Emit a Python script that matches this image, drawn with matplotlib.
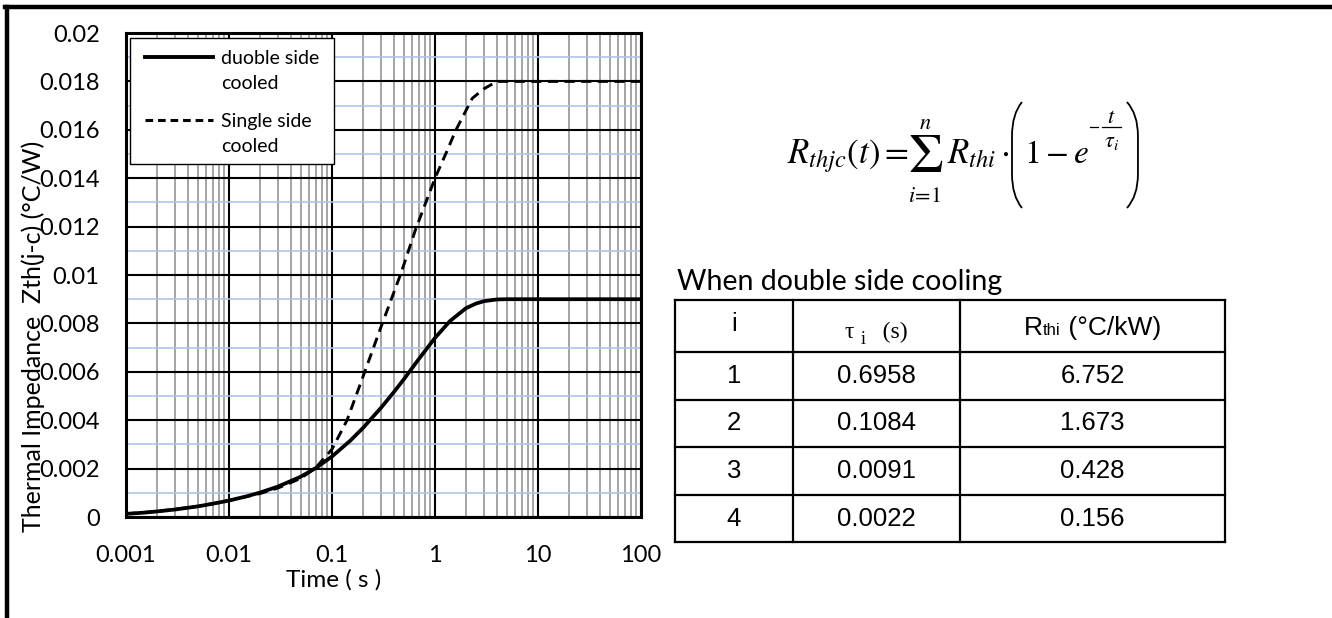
import matplotlib
matplotlib.use("Agg")
import matplotlib.pyplot as plt
from matplotlib.lines import Line2D
from matplotlib.patches import Rectangle, PathPatch
from matplotlib.path import Path
from matplotlib.ticker import FixedLocator, NullFormatter

plt.rcParams["font.family"] = ["Lato", "DejaVu Sans"]
plt.rcParams["mathtext.fontset"] = "stix"

# curve readings (time in s, Zth in degC/W)
time_double = [0.001, 0.0015, 0.002, 0.003, 0.005, 0.007, 0.01, 0.015, 0.02, 0.03,
               0.05, 0.07, 0.1, 0.15, 0.2, 0.3, 0.4, 0.5, 0.7, 1.0, 1.4, 2.0, 2.5,
               3.0, 4.0, 5.0, 10.0, 20.0, 50.0, 100.0]
zth_double = [0.00013, 0.00018, 0.00023, 0.00031, 0.00044, 0.00055, 0.00068, 0.00086,
              0.00101, 0.00126, 0.00167, 0.00203, 0.0025, 0.00315, 0.00368, 0.00452,
              0.00517, 0.0057, 0.00654, 0.0074, 0.0081, 0.00863, 0.00882, 0.00892,
              0.00899, 0.0090, 0.0090, 0.0090, 0.0090, 0.0090]

time_single = [0.001, 0.002, 0.005, 0.01, 0.02, 0.03, 0.05, 0.07, 0.1, 0.14, 0.2, 0.3,
               0.47, 0.65, 1.0, 1.3, 1.6, 2.0, 2.3, 3.0, 4.0, 6.0, 10.0, 100.0]
zth_single = [0.00013, 0.00023, 0.00044, 0.00068, 0.00097, 0.0012, 0.0016, 0.00205,
              0.0028, 0.0040, 0.0058, 0.00787, 0.0101, 0.0119, 0.0140, 0.0151, 0.0160,
              0.0168, 0.0173, 0.0177, 0.0180, 0.0180, 0.0180, 0.0180]

series_labels = [["duoble side", "cooled"], ["Single side", "cooled"]]

# table data
table_i = ["1", "2", "3", "4"]
table_tau = ["0.6958", "0.1084", "0.0091", "0.0022"]
table_rth = ["6.752", "1.673", "0.428", "0.156"]

W, H = 1332, 618
fig = plt.figure(figsize=(W / 100, H / 100), dpi=100)
fig.patch.set_facecolor("white")
renderer = fig.canvas.get_renderer()


def fx(x):
    return x / W


def fy(y):
    return 1 - y / H


# outer frame lines (top and left)
fig.add_artist(Line2D([fx(5), fx(1332)], [fy(7), fy(7)], color="black", lw=3.2))
fig.add_artist(Line2D([fx(7), fx(7)], [fy(7), fy(618)], color="black", lw=3.2))

ax = fig.add_axes([fx(126), fy(517), fx(641) - fx(126), fy(33) - fy(517)])
ax.set_xscale("log")
ax.set_xlim(0.001, 100)
ax.set_ylim(0, 0.02)

ax.xaxis.set_major_locator(FixedLocator([0.001, 0.01, 0.1, 1, 10, 100]))
ax.set_xticklabels(["0.001", "0.01", "0.1", "1", "10", "100"])
minor_x = [m * 10.0 ** e for e in range(-3, 2) for m in range(2, 10)]
ax.xaxis.set_minor_locator(FixedLocator(minor_x))
ax.xaxis.set_minor_formatter(NullFormatter())

yt = [0, 0.002, 0.004, 0.006, 0.008, 0.01, 0.012, 0.014, 0.016, 0.018, 0.02]
ax.yaxis.set_major_locator(FixedLocator(yt))
ax.set_yticklabels(["0", "0.002", "0.004", "0.006", "0.008", "0.01", "0.012",
                    "0.014", "0.016", "0.018", "0.02"])
ax.yaxis.set_minor_locator(FixedLocator([0.001 + 0.002 * k for k in range(10)]))

ax.tick_params(which="both", length=0)
ax.tick_params(axis="y", pad=19, labelsize=17)
ax.tick_params(axis="x", pad=20, labelsize=17)

ax.grid(True, axis="x", which="minor", color="#8c8c8c", lw=1.1, zorder=1)
ax.grid(True, axis="y", which="minor", color="#b0c4e6", lw=1.2, zorder=1)
ax.grid(True, which="major", color="black", lw=1.5, zorder=2)
ax.set_axisbelow(True)
for s in ax.spines.values():
    s.set_linewidth(2.2)
    s.set_zorder(5)

ax.plot(time_double, zth_double, color="black", lw=2.7, solid_capstyle="round", zorder=4)
ax.plot(time_single, zth_single, color="black", lw=2.1, dashes=(3.5, 2.2), zorder=4)


# legend box drawn in axes fraction
def ax_pt(x, y):
    return ((x - 126) / 515, (517 - y) / 484)


lx0, ly0 = ax_pt(130, 164)
lx1, ly1 = ax_pt(334, 38)
ax.add_patch(Rectangle((lx0, ly0), lx1 - lx0, ly1 - ly0, transform=ax.transAxes,
                       facecolor="white", edgecolor="black", lw=1.0, zorder=6))
for (yline, lab, style) in [(57, series_labels[0], "-"), (120, series_labels[1], "--")]:
    a, b = ax_pt(145, yline)
    c, _ = ax_pt(213, yline)
    kw = dict(lw=2.8) if style == "-" else dict(lw=2.2, dashes=(2.5, 1.6))
    ax.add_line(Line2D([a, c], [b, b], transform=ax.transAxes, color="black",
                       zorder=7, **kw))
    for j, line in enumerate(lab):
        tx, ty = ax_pt(221, yline + 25 * j)
        ax.text(tx, ty, line, transform=ax.transAxes, fontsize=14, va="center_baseline",
                ha="left", zorder=7)

fig.text(fx(334), fy(580), "Time ( s )", ha="center", va="center", fontsize=17.5)
fig.text(fx(33), fy(336), "Thermal Impedance  Zth(j-c) (°C/W)", ha="center",
         va="center", rotation=90, fontsize=18)

# formula, assembled from pieces
base = 163
fig.text(fx(787), fy(base), r"$R_{thjc}\left(t\right)=$", ha="left", va="baseline",
         fontsize=25)
fig.text(fx(926), fy(156), r"$\Sigma$", ha="center", va="center", fontsize=40)
fig.text(fx(925), fy(123), r"$n$", ha="center", va="center", fontsize=16)
fig.text(fx(925), fy(196), r"$i\!=\!1$", ha="center", va="center", fontsize=16)
fig.text(fx(947), fy(base), r"$R_{thi}\cdot$", ha="left", va="baseline", fontsize=25)
one_e = fig.text(fx(1024), fy(base), r"$1-e$", ha="left", va="baseline", fontsize=24)
e_right = one_e.get_window_extent(renderer).x1
ex = e_right + 1  # pixel x where the exponent starts
fig.add_artist(Line2D([ex / W, (ex + 8) / W], [fy(127), fy(127)], color="black", lw=0.9))
fig.add_artist(Line2D([(ex + 12) / W, (ex + 31) / W], [fy(127), fy(127)],
                      color="black", lw=0.9))
fig.text((ex + 21.5) / W, fy(117), r"$t$", ha="center", va="center", fontsize=16)
fig.text((ex + 21.5) / W, fy(142), r"$\tau_i$", ha="center", va="center", fontsize=16)


def paren(x_edge, x_mid, top, bot):
    # thin tall bracket: curved hooks with straight middle
    verts = [(x_edge, top), (x_mid, top + 12), (x_mid, top + 34),
             (x_mid, bot - 34),
             (x_mid, bot - 12), (x_edge, bot)]
    codes = [Path.MOVETO, Path.CURVE3, Path.CURVE3, Path.LINETO, Path.CURVE3, Path.CURVE3]
    pts = [(fx(x), fy(y)) for x, y in verts]
    fig.add_artist(PathPatch(Path(pts, codes), transform=fig.transFigure,
                             facecolor="none", edgecolor="black", lw=1.3))


paren(1022, 1012, 102, 208)
rx = max(ex + 37, 1121)
paren(rx, rx + 11, 102, 208)

# table
fig.text(fx(677), fy(290), "When double side cooling", ha="left", va="baseline",
         fontsize=20.5)
col_x = [675, 793, 960, 1225]
row_y = [300, 352, 400, 447, 495, 542]
for x in col_x:
    fig.add_artist(Line2D([fx(x), fx(x)], [fy(row_y[0]), fy(row_y[-1])],
                          color="black", lw=1.6))
for y in row_y:
    fig.add_artist(Line2D([fx(col_x[0]), fx(col_x[-1])], [fy(y), fy(y)],
                          color="black", lw=1.6))

centers = [(col_x[k] + col_x[k + 1]) / 2 for k in range(3)]
tfont = ["Liberation Sans", "DejaVu Sans"]
for r in range(4):
    yc = (row_y[r + 1] + row_y[r + 2]) / 2
    for k, val in enumerate([table_i[r], table_tau[r], table_rth[r]]):
        fig.text(fx(centers[k]), fy(yc), val, ha="center", va="center",
                 fontsize=18.5, family=tfont)

# header cells
hy = (row_y[0] + row_y[1]) / 2
fig.text(fx(centers[0]), fy(hy - 2), "i", ha="center", va="center", fontsize=18.5,
         family=tfont)


def put_pieces(pieces, xc, ybase):
    arts = []
    for txt, size, fam, dy in pieces:
        arts.append((fig.text(0, 0, txt, fontsize=size, family=fam, ha="left",
                              va="baseline"), dy))
    widths = [a.get_window_extent(renderer).width for a, _ in arts]
    x = xc - sum(widths) / 2
    for (a, dy), w in zip(arts, widths):
        a.set_position((fx(x), fy(ybase + dy)))
        x += w


serif = ["Liberation Serif", "DejaVu Serif"]
put_pieces([("τ ", 17, serif, 0), ("i", 13, serif, 6), ("   (s)", 17, serif, 0)],
           centers[1], hy + 12)
put_pieces([("R", 19, tfont, 0), ("thi", 12, tfont, 0), (" (°C/kW)", 19, tfont, 0)],
           centers[2], hy + 9)

fig.savefig("out.png", dpi=100, facecolor="white")
